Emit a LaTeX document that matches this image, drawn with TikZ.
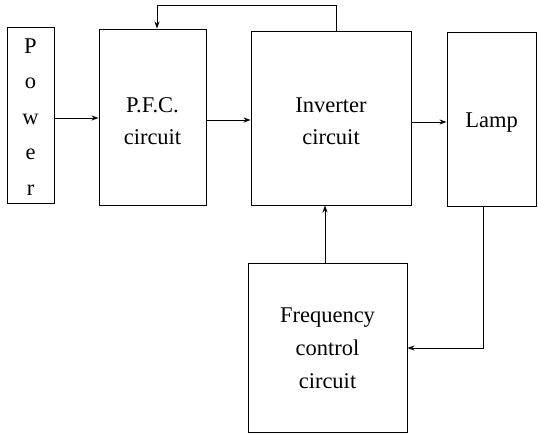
\documentclass[tikz,border=0pt]{standalone}
\usepackage{fontspec}
\setmainfont{Liberation Serif}
\usetikzlibrary{arrows.meta}
\begin{document}
\begin{tikzpicture}[x=1pt,y=-1pt,
  blockbox/.style={draw, line width=0.9pt, inner sep=0pt},
  blocktext/.style={inner sep=0pt, align=center,
    font=\fontsize{22.5}{32}\selectfont},
  conn/.style={line width=0.9pt, -{Stealth[length=7pt,width=5pt]}}]
\useasboundingbox (0,0) rectangle (538,435);
\node[blockbox, minimum width=47pt, minimum height=176pt] (power) at (30.5,115) {};
\node[blockbox, minimum width=107pt, minimum height=176pt] (pfc) at (152.5,117) {};
\node[blockbox, minimum width=160pt, minimum height=174pt] (inv) at (331,118) {};
\node[blockbox, minimum width=89pt, minimum height=174pt] (lamp) at (491.5,119) {};
\node[blockbox, minimum width=159pt, minimum height=169pt] (freq) at (327.5,347.5) {};
\node[blocktext, font=\fontsize{22.5}{35.5}\selectfont] (powert) at ([yshift=-2pt]power.center) {P\\o\\w\\e\\r};
\node[blocktext] (pfct) at ([yshift=-4pt]pfc.center) {P.F.C.\\circuit};
\node[blocktext] (invt) at ([yshift=-3pt]inv.center) {Inverter\\circuit};
\node[blocktext] (lampt) at ([yshift=-4pt]lamp.center) {Lamp};
\node[blocktext, font=\fontsize{22.5}{33}\selectfont] (freqt) at ([yshift=-1pt]freq.center) {Frequency\\control\\circuit};
\coordinate (fbR) at (336,5);
\coordinate (fbL) at (157,5);
\coordinate (lampdn) at (483,348);
\draw[conn] (power.east |- 0,118) -- (pfc.west |- 0,118);
\draw[conn] (pfc.east |- 0,120) -- (inv.west |- 0,120);
\draw[conn] (inv.east |- 0,122) -- (lamp.west |- 0,122);
\draw[conn] (inv.north -| fbR) -- (fbR) -- (fbL) -- (pfc.north -| fbL);
\draw[conn] (freq.north -| 325,0) -- (inv.south -| 325,0);
\draw[conn] (lamp.south -| lampdn) -- (lampdn) -- (freq.east |- lampdn);
\end{tikzpicture}
\end{document}
